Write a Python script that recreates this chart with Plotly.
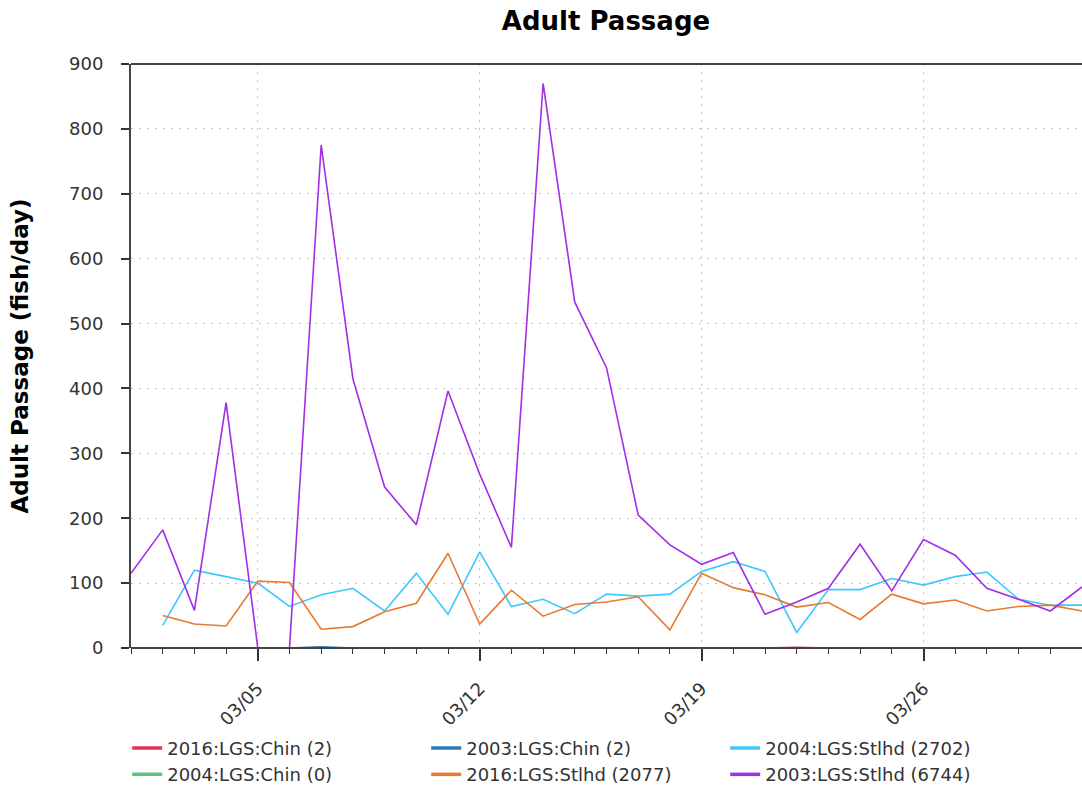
import plotly.graph_objects as go

dates = ["2016-03-%02d" % d for d in range(1, 32)]

N = None
chin_2016 = [N, N, N, N, N, N, N, N, N, N, N, N, N, N, N, N, N, N, N, N, 0, 1, 0, 0, 1, 0, N, N, N, N, N]
chin_2003 = [N, N, N, N, N, 0, 2, 0, N, N, N, N, N, N, N, N, N, N, N, N, N, N, N, N, N, N, N, N, N, N, N]
chin_2004 = [N, N, N, N, N, N, N, N, N, N, N, N, N, N, N, N, N, N, N, N, N, N, N, N, N, N, N, N, N, N, N]
stlhd_2004 = [None, 35, 120, 110, 100, 64, 82, 92, 57, 115, 52, 148, 64, 75, 53, 83,
              80, 83, 118, 133, 118, 24, 90, 90, 107, 97, 110, 117, 75, 66, 66]
stlhd_2016 = [None, 50, 37, 34, 103, 101, 29, 33, 56, 69, 146, 37, 89, 49, 67, 71,
              79, 28, 115, 93, 82, 63, 70, 44, 83, 68, 74, 57, 64, 66, 57]
stlhd_2003 = [115, 182, 58, 378, 0, 0, 775, 415, 248, 190, 396, 268, 155, 870, 533, 432,
              205, 159, 129, 147, 52, 71, 92, 160, 88, 167, 143, 92, 75, 57, 94]

series = [
    ("2016:LGS:Chin (2)", chin_2016, "#e8334f"),
    ("2003:LGS:Chin (2)", chin_2003, "#2a7ab8"),
    ("2004:LGS:Stlhd (2702)", stlhd_2004, "#3cc8ff"),
    ("2004:LGS:Chin (0)", chin_2004, "#5cc480"),
    ("2016:LGS:Stlhd (2077)", stlhd_2016, "#e57a30"),
    ("2003:LGS:Stlhd (6744)", stlhd_2003, "#a22ee6"),
]

fig = go.Figure()
# data lines
for name, vals, color in series:
    fig.add_trace(go.Scatter(x=dates, y=vals, name=name, mode="lines", legendgroup=name,
                             line=dict(color=color, width=1.6), showlegend=False))
# legend entries (thicker swatches)
for name, vals, color in series:
    fig.add_trace(go.Scatter(x=[None], y=[None], name=name, mode="lines", legendgroup=name,
                             line=dict(color=color, width=3.5), showlegend=True,
                             hoverinfo="skip"))

font_family = "DejaVu Sans"
axis_color = "#444444"
fig.update_layout(
    width=1082, height=785,
    margin=dict(l=131, r=0, t=64, b=137, autoexpand=False),
    paper_bgcolor="white", plot_bgcolor="white",
    font=dict(family=font_family, size=18, color="#333333"),
    title=dict(text="Adult Passage", x=606 / 1082, xanchor="center", xref="container",
               y=1 - 21 / 785, yanchor="middle", yref="container",
               font=dict(family=font_family, size=26, color="black", weight="bold")),
    legend=dict(orientation="h", x=-0.004, xanchor="left", y=-0.140, yanchor="top",
                entrywidth=254, font=dict(family=font_family, size=18, color="#333333"),
                traceorder="normal", bgcolor="rgba(0,0,0,0)"),
    showlegend=True,
    shapes=[
        dict(type="line", xref="paper", yref="paper", x0=0, x1=1, y0=0, y1=0,
             line=dict(color=axis_color, width=2), layer="above"),
        dict(type="line", xref="paper", yref="paper", x0=0, x1=1, y0=1, y1=1,
             line=dict(color=axis_color, width=2), layer="above"),
    ],
)

fig.update_xaxes(
    type="date", range=["2016-03-01", "2016-03-31"],
    tick0="2016-03-05", dtick=7 * 86400000, tickformat="%m/%d", tickangle=-45,
    ticks="outside", ticklen=12, tickwidth=1.5, tickcolor="#333333",
    ticklabelstandoff=10,
    showline=False,
    showgrid=True, gridcolor="#c4c4c4", griddash="2px,6px", gridwidth=1,
    minor=dict(dtick=86400000, ticks="outside", ticklen=5, tickcolor="#333333", tickwidth=1.2, showgrid=False),
    tickfont=dict(family=font_family, size=18, color="#333333"),
    zeroline=False, automargin=False,
)
fig.update_yaxes(
    range=[0, 900], dtick=100, tick0=0,
    ticks="outside", ticklen=8, tickwidth=1.5, tickcolor="#333333",
    ticklabelstandoff=14,
    showline=True, linecolor=axis_color, linewidth=2,
    showgrid=True, gridcolor="#c4c4c4", griddash="2px,6px", gridwidth=1,
    zeroline=False, automargin=False,
    tickfont=dict(family=font_family, size=18, color="#333333"),
    title=dict(text="Adult Passage (fish/day)", standoff=34,
               font=dict(family=font_family, size=23, color="black", weight="bold")),
)

fig.write_html("out.html", config={"displayModeBar": False},
               post_script="document.body.style.margin='0';document.body.style.overflow='hidden';")
